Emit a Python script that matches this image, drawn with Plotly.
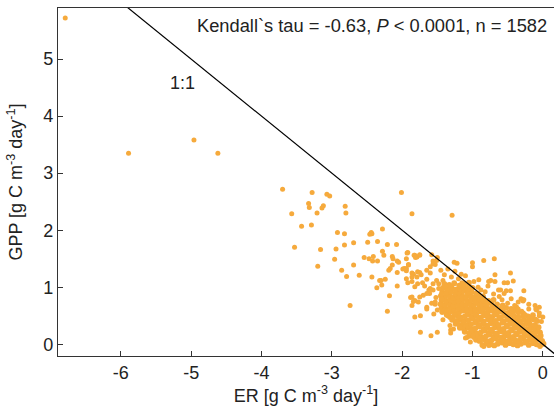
import plotly.graph_objects as go

# ---- sparse / outlying observations (ER, GPP) ----
er_sparse = [-6.79, -5.89, -4.96, -4.62,
    -3.70, -3.28, -3.07, -3.03, -3.33, -3.32, -3.12, -3.14, -2.81, -2.80, -3.57, -3.21, -3.29, -3.43, -2.01, -1.86, -1.29,
    -2.92, -2.82, -2.44, -2.43, -2.46, -2.28, -3.53, -3.16, -2.94, -2.82, -2.69, -2.49, -2.35, -2.21, -2.08, -1.92, -2.28, -2.26,
    -2.96, -2.54, -2.47, -2.41, -2.42, -2.35, -2.69, -3.20, -2.86, -2.79, -2.61, -2.43, -2.30, -2.24, -2.36, -2.29, -2.18, -2.74,
    -2.07, -2.14, -2.07, -2.05, -2.13,
    -1.93, -1.94, -1.82, -1.79, -1.75, -2.14, -2.17, -2.19, -2.07, -1.97, -1.94, -1.91, -1.86, -1.84, -1.78, -1.75, -1.73,
    -1.60, -1.56, -1.53, -1.51, -1.58, -1.50, -2.32, -2.21, -1.94, -1.92, -1.86, -1.82, -1.78, -1.71, -1.65, -1.88, -1.84,
    -1.86, -1.77, -1.82, -1.74, -1.74, -1.59, -1.50, -1.61, -1.56, -1.48, -1.42, -1.53, -1.43, -1.55, -1.43, -1.42, -1.31,
    -1.08, -0.89, -0.75, -1.32, -1.22, -1.14,
    -1.26, -1.22, -1.16, -1.00, -1.00, -0.84, -0.69, -0.68, -0.91, -0.77, -0.74, -0.55, -0.50, -0.46, -0.42, -0.27, -0.30,
    -0.28, -0.11, -0.05, -0.09, -0.68, -0.46, -0.63, -0.55, -0.52,
    -1.37, -1.32, -1.27, -1.17, -1.10, -0.99, -1.03, -0.77, -0.84, -1.31,
    -1.45, -1.40, -1.35, -1.30, -1.25, -1.20, -1.15, -1.10, -1.05, -0.98, -0.92, -0.88, -0.82, -0.78, -0.70, -0.62, -0.58,
    -0.50, -0.45, -0.40, -0.35, -0.30, -0.25, -0.20, -0.15, -0.10, -0.05, -0.02, -0.35, -0.60, -1.38, -1.48, -1.52, -1.46,
    -1.50, -1.44, -1.58, -1.62, -1.40, -1.68, -1.70, -1.65, -0.31, -0.27, -0.20, -0.10, -0.05, 0.00,
    -1.99, -1.94, -1.91, -1.83, -1.81, -1.75, -1.86, -1.79, -1.65, -1.60, -1.56, -1.86, -1.82, -1.75, -1.65, -1.56, -1.51,
    -1.60, -1.53, -1.65]
gpp_sparse = [5.72, 3.35, 3.58, 3.35,
    2.72, 2.66, 2.63, 2.60, 2.47, 2.40, 2.43, 2.39, 2.42, 2.30, 2.29, 2.30, 2.09, 2.07, 2.66, 2.29, 2.26,
    1.96, 1.94, 1.96, 1.94, 1.93, 2.02, 1.70, 1.66, 1.67, 1.74, 1.78, 1.79, 1.80, 1.75, 1.75, 1.61, 1.63, 1.56,
    1.49, 1.52, 1.50, 1.54, 1.46, 1.46, 1.39, 1.37, 1.30, 1.19, 1.21, 1.18, 1.12, 1.14, 0.99, 1.04, 0.85, 0.68,
    1.02, 1.54, 1.46, 1.44, 1.50,
    1.60, 1.50, 1.56, 1.53, 1.56, 1.39, 1.33, 1.30, 1.26, 1.33, 1.29, 1.39, 1.25, 1.23, 1.27, 1.26, 1.22,
    1.25, 1.46, 1.40, 1.47, 1.57, 1.52, 1.12, 0.58, 1.15, 1.08, 1.10, 1.01, 1.06, 1.08, 1.14, 0.82, 0.75,
    0.68, 0.74, 0.48, 0.50, 0.21, 0.15, 0.21, 0.89, 0.95, 1.06, 1.12, 0.70, 0.79, 0.53, 0.56, 0.43, 0.25,
    0.12, 0.09, -0.01, 0.47, 0.40, 0.29,
    1.44, 1.42, 1.23, 1.43, 1.36, 1.47, 1.50, 1.22, 1.13, 1.10, 1.12, 1.08, 1.08, 1.25, 1.11, 0.94, 0.79,
    0.76, 0.68, 0.65, 0.60, 1.10, 0.94, 0.95, 0.89, 0.94,
    0.51, 0.33, 0.27, 0.30, 0.11, 0.16, 0.04, -0.02, -0.04, 0.20,
    1.30, 1.22, 1.32, 1.18, 1.28, 1.15, 1.08, 1.20, 1.02, 1.10, 1.00, 0.95, 0.92, 1.02, 0.88, 0.84, 0.78,
    0.72, 0.80, 0.68, 0.62, 0.58, 0.52, 0.62, 0.48, 0.44, 0.50, 0.40, 0.74, 0.95, 1.02, 0.98, 0.82, 0.70,
    0.60, 0.88, 0.72, 0.95, 0.60, 1.02, 0.86, 0.62, 0.80, 0.78, 0.70, 0.62, 0.55, 0.48,
    1.32, 1.33, 1.40, 1.56, 1.52, 1.57, 1.18, 1.18, 1.30, 1.36, 1.41, 0.83, 0.77, 0.83, 0.89, 1.06, 1.12,
    0.98, 0.74, 0.65]

# ---- dense core of the cloud (ER, GPP), read row by row ----
er_core = [
    -0.86, -0.80, -0.75, -0.69, -0.64, -0.58, -0.53, -0.47, -0.42, -0.36, -0.31, -0.25, -0.20, -0.14, -0.09, -0.04, 0.01,
    -0.95, -0.90, -0.84, -0.78, -0.73, -0.67, -0.62, -0.56, -0.51, -0.45, -0.39, -0.34, -0.28, -0.23, -0.17, -0.12, -0.06, -0.01,
    -1.04, -0.98, -0.93, -0.87, -0.81, -0.76, -0.70, -0.65, -0.59, -0.53, -0.48, -0.42, -0.37, -0.31, -0.26, -0.20, -0.14, -0.09, -0.03,
    -1.11, -1.05, -1.00, -0.94, -0.88, -0.83, -0.77, -0.72, -0.66, -0.60, -0.55, -0.49, -0.44, -0.38, -0.33, -0.27, -0.21, -0.16, -0.10, -0.04,
    -1.18, -1.12, -1.07, -1.01, -0.96, -0.90, -0.84, -0.79, -0.73, -0.68, -0.62, -0.56, -0.51, -0.45, -0.40, -0.34, -0.29, -0.23, -0.17, -0.12, -0.06,
    -1.24, -1.18, -1.13, -1.07, -1.02, -0.96, -0.91, -0.85, -0.79, -0.74, -0.68, -0.63, -0.57, -0.51, -0.46, -0.40, -0.35, -0.29, -0.23, -0.18, -0.11,
    -1.29, -1.23, -1.18, -1.12, -1.06, -1.01, -0.95, -0.90, -0.84, -0.78, -0.73, -0.67, -0.62, -0.56, -0.50, -0.45, -0.39, -0.33, -0.27, -0.20, -0.14, -0.08,
    -1.34, -1.28, -1.22, -1.17, -1.11, -1.05, -1.00, -0.94, -0.88, -0.83, -0.77, -0.72, -0.66, -0.60, -0.55, -0.49, -0.42, -0.35, -0.28, -0.21, -0.14,
    -1.43, -1.37, -1.31, -1.25, -1.19, -1.13, -1.07, -1.02, -0.96, -0.90, -0.85, -0.79, -0.73, -0.68, -0.62, -0.56, -0.49, -0.42, -0.35, -0.28,
    -1.44, -1.38, -1.32, -1.26, -1.20, -1.14, -1.08, -1.02, -0.96, -0.90, -0.84, -0.78, -0.72, -0.66, -0.59, -0.52, -0.45, -0.38,
    -1.45, -1.39, -1.33, -1.27, -1.21, -1.15, -1.09, -1.03, -0.98, -0.92, -0.86, -0.80, -0.73, -0.65, -0.57,
    -1.44, -1.38, -1.32, -1.26, -1.20, -1.14, -1.08, -1.02, -0.96, -0.90, -0.84, -0.77, -0.70,
    -1.45, -1.39, -1.33, -1.27, -1.21, -1.15, -1.09, -1.03, -0.97, -0.91, -0.85,
    -1.43, -1.37, -1.31, -1.25, -1.19, -1.13, -1.07, -1.01, -0.95,
    -1.42, -1.36, -1.30, -1.24, -1.18, -1.12, -1.06, -1.00,
    -1.40, -1.33, -1.26, -1.19, -1.12, -1.05]
gpp_core = [
    -0.01, 0.02, 0.00, -0.02, 0.01, 0.03, -0.01, 0.02, 0.00, -0.02, 0.01, 0.03, -0.01, 0.02, 0.00, -0.03, 0.01,
    0.08, 0.06, 0.09, 0.05, 0.07, 0.10, 0.06, 0.08, 0.05, 0.09, 0.07, 0.06, 0.10, 0.05, 0.08, 0.07, 0.09, 0.06,
    0.15, 0.13, 0.16, 0.12, 0.14, 0.17, 0.13, 0.15, 0.12, 0.16, 0.14, 0.13, 0.17, 0.12, 0.15, 0.14, 0.16, 0.13, 0.15,
    0.22, 0.20, 0.23, 0.19, 0.21, 0.24, 0.20, 0.22, 0.19, 0.23, 0.21, 0.20, 0.24, 0.19, 0.22, 0.21, 0.23, 0.20, 0.22, 0.21,
    0.29, 0.27, 0.30, 0.26, 0.28, 0.31, 0.27, 0.29, 0.26, 0.30, 0.28, 0.27, 0.31, 0.26, 0.29, 0.28, 0.30, 0.27, 0.29, 0.28, 0.30,
    0.36, 0.34, 0.37, 0.33, 0.35, 0.38, 0.34, 0.36, 0.33, 0.37, 0.35, 0.34, 0.38, 0.33, 0.36, 0.35, 0.37, 0.34, 0.36, 0.35, 0.34,
    0.43, 0.41, 0.44, 0.40, 0.42, 0.45, 0.41, 0.43, 0.40, 0.44, 0.42, 0.41, 0.45, 0.40, 0.43, 0.42, 0.44, 0.41, 0.43, 0.42, 0.44, 0.41,
    0.50, 0.48, 0.51, 0.47, 0.49, 0.52, 0.48, 0.50, 0.47, 0.51, 0.49, 0.48, 0.52, 0.47, 0.50, 0.49, 0.51, 0.48, 0.50, 0.49, 0.51,
    0.57, 0.55, 0.58, 0.54, 0.56, 0.59, 0.55, 0.57, 0.54, 0.58, 0.56, 0.55, 0.59, 0.54, 0.57, 0.56, 0.55, 0.58, 0.56, 0.54,
    0.64, 0.62, 0.65, 0.61, 0.63, 0.66, 0.62, 0.64, 0.61, 0.65, 0.63, 0.62, 0.66, 0.61, 0.63, 0.64, 0.62, 0.65,
    0.71, 0.69, 0.72, 0.68, 0.70, 0.73, 0.69, 0.71, 0.68, 0.72, 0.70, 0.69, 0.72, 0.70, 0.68,
    0.78, 0.76, 0.79, 0.75, 0.77, 0.80, 0.76, 0.78, 0.75, 0.79, 0.77, 0.76, 0.78,
    0.85, 0.83, 0.86, 0.82, 0.84, 0.87, 0.83, 0.85, 0.82, 0.86, 0.84,
    0.92, 0.90, 0.93, 0.89, 0.91, 0.94, 0.90, 0.92, 0.89,
    0.99, 0.97, 1.00, 0.96, 0.98, 1.01, 0.97, 0.99,
    1.06, 1.04, 1.07, 1.03, 1.05, 1.08]

x_ticks = [-6, -5, -4, -3, -2, -1, 0]
x_tick_labels = ["-6", "-5", "-4", "-3", "-2", "-1", "0"]
y_ticks = [0, 1, 2, 3, 4, 5]
y_tick_labels = ["0", "1", "2", "3", "4", "5"]
x_range = [-6.893, 0.159]
y_range = [-0.205, 5.895]
one_to_one = [-7, 1]

stat_text = "Kendall`s tau = -0.63, <i>P</i> < 0.0001, n = 1582"

FONT = "Liberation Sans, Arial, sans-serif"
ORANGE = "#F6AA3C"

fig = go.Figure()
fig.add_trace(go.Scatter(
    x=er_core, y=gpp_core, mode="markers",
    marker=dict(color=ORANGE, size=5.8, line=dict(width=0)),
    showlegend=False))
fig.add_trace(go.Scatter(
    x=er_sparse, y=gpp_sparse, mode="markers",
    marker=dict(color=ORANGE, size=5.0, line=dict(width=0)),
    showlegend=False))
fig.add_trace(go.Scatter(
    x=one_to_one, y=[-v for v in one_to_one], mode="lines",
    line=dict(color="black", width=1.2), showlegend=False))

fig.add_annotation(x=-5.13, y=4.58, text="1:1", showarrow=False,
                   font=dict(family=FONT, size=18, color="#222"))
fig.add_annotation(xref="paper", yref="paper", x=0.99, y=0.985, xanchor="right", yanchor="top",
                   text=stat_text, showarrow=False,
                   font=dict(family=FONT, size=18.3, color="#222"))

axis_common = dict(showgrid=False, zeroline=False, showline=True, linecolor="#333", linewidth=1.2,
                   ticks="inside", ticklen=5, tickcolor="#333", tickwidth=1, automargin=False,
                   tickfont=dict(family=FONT, size=18, color="#222"))
fig.update_xaxes(range=x_range, tickvals=x_ticks, ticktext=x_tick_labels, mirror=True,
                 title=dict(text="ER [g C m<sup>-3</sup> day<sup>-1</sup>]",
                            font=dict(family=FONT, size=18, color="#222")),
                 **axis_common)
fig.update_yaxes(range=y_range, tickvals=y_ticks, ticktext=y_tick_labels,
                 title=dict(text="GPP [g C m<sup>-3</sup> day<sup>-1</sup>]",
                            font=dict(family=FONT, size=18, color="#222")),
                 **axis_common)
fig.update_layout(width=554, height=406, margin=dict(l=58, r=0, t=8, b=50),
                  plot_bgcolor="white", paper_bgcolor="white")
fig.write_html("out.html", config={"displayModeBar": False},
               post_script="document.body.style.margin='0';")
